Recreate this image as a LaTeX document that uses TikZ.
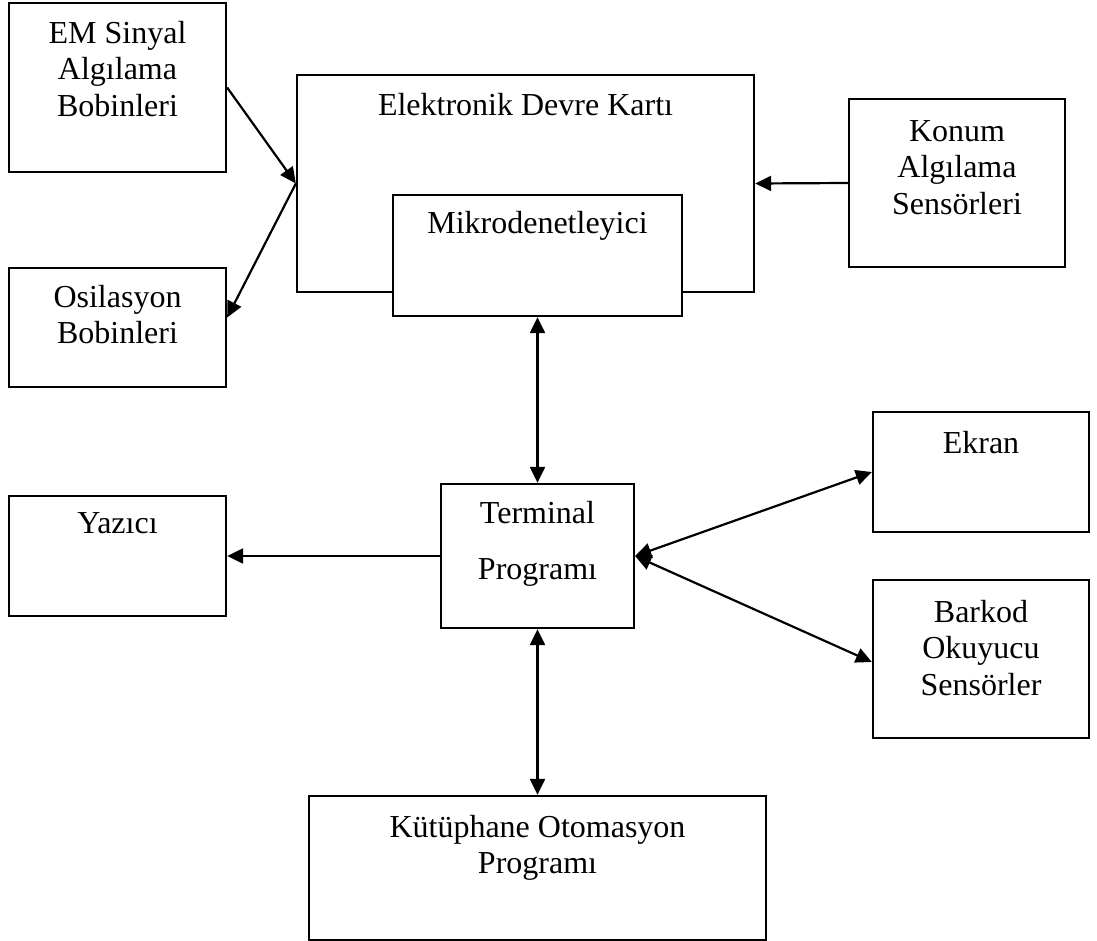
\documentclass[tikz,border=0pt]{standalone}
\usepackage{fontspec}
\setmainfont{Liberation Serif}
\usetikzlibrary{arrows.meta}
\tikzset{
  box/.style={draw, line width=2.3pt, rectangle, inner sep=0pt, fill=white},
  txt/.style={anchor=north, inner sep=0pt, align=center, font=\fontsize{32}{36.5}\selectfont},
  tip/.style={Triangle[length=16pt,width=15pt]},
  conn/.style={line width=2.2pt, -{Triangle[length=16pt,width=15pt]}},
  bconn/.style={line width=2.2pt, {Triangle[length=16pt,width=15pt]}-{Triangle[length=16pt,width=15pt]}}
}
\begin{document}
\begin{tikzpicture}[x=1pt,y=-1pt]
\useasboundingbox (0,0) rectangle (1097,941);
\node[box, minimum width=217pt, minimum height=169pt,
  label={[txt,yshift=-19pt]north:EM Sinyal\\Algılama\\Bobinleri}] (em) at (117.5,87.5) {};
\node[box, minimum width=457pt, minimum height=217pt,
  label={[txt,yshift=-19pt]north:Elektronik Devre Kartı}] (elk) at (525.5,183.5) {};
\node[box, minimum width=289pt, minimum height=121pt,
  label={[txt,yshift=-17pt]north:Mikrodenetleyici}] (mik) at (537.5,255.5) {};
\node[box, minimum width=216pt, minimum height=168pt,
  label={[txt,yshift=-22pt]north:Konum\\Algılama\\Sensörleri}] (kon) at (957,183) {};
\node[box, minimum width=217pt, minimum height=119pt,
  label={[txt,yshift=-18pt]north:Osilasyon\\Bobinleri}] (osc) at (117.5,327.5) {};
\node[box, minimum width=193pt, minimum height=144pt,
  label={[txt,yshift=-18pt]north:Terminal\\[19.5pt]Programı}] (ter) at (537.5,556) {};
\node[box, minimum width=217pt, minimum height=120pt,
  label={[txt,yshift=-17pt]north:Yazıcı}] (yaz) at (117.5,556) {};
\node[box, minimum width=216pt, minimum height=120pt,
  label={[txt,yshift=-20pt]north:Ekran}] (ekr) at (981,472) {};
\node[box, minimum width=216pt, minimum height=158pt,
  label={[txt,yshift=-21pt]north:Barkod\\Okuyucu\\Sensörler}] (bar) at (981,659) {};
\node[box, minimum width=457pt, minimum height=144pt,
  label={[txt,yshift=-20pt]north:Kütüphane Otomasyon\\Programı}] (kut) at (537.5,868) {};

\draw[conn] (em.east) -- (elk.west);
\draw[conn] (elk.west) -- ([yshift=10pt]osc.east);
\draw[conn] (kon.west) -- (elk.east);
\draw[bconn] (mik.south) -- (ter.north);
\draw[conn] (ter.west) -- (yaz.east);
\draw[bconn] (ter.east) -- (ekr.west);
\draw[bconn] (ter.east) -- ([yshift=-3pt]bar.west);
\draw[bconn] (ter.south) -- (kut.north);
\end{tikzpicture}
\end{document}
